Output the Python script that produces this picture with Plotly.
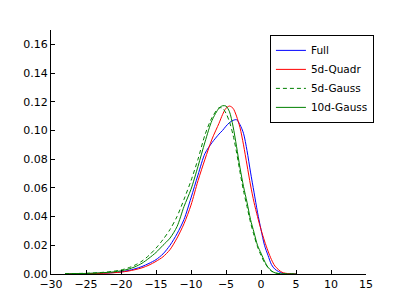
import plotly.graph_objects as go

x_grid = [-28, -27, -26, -25, -24, -23, -22, -21, -20, -19, -18, -17, -16, -15,
          -14, -13, -12, -11, -10, -9, -8, -7,
          -6, -5.5, -5, -4.5, -4, -3.5, -3, -2.5, -2, -1.5, -1, -0.5, 0, 0.5,
          1, 1.5, 2, 3, 4, 5]

full = [0.0001, 0.0001, 0.0002, 0.0003, 0.0004, 0.0005, 0.0007, 0.0010, 0.0015,
        0.0024, 0.0036, 0.0052, 0.0074, 0.010, 0.014, 0.020, 0.028, 0.038, 0.053,
        0.069, 0.084, 0.0915,
        0.0975, 0.100, 0.103, 0.1055, 0.107, 0.1075, 0.104, 0.098, 0.086, 0.071,
        0.057, 0.043, 0.031, 0.020, 0.013, 0.0065, 0.0033, 0.0006, 0.0001, 0.0]

quadr5 = [0.0, 0.0001, 0.0001, 0.0002, 0.0003, 0.0004, 0.0006, 0.0009, 0.0013,
          0.002, 0.003, 0.0043, 0.0062, 0.0088, 0.012, 0.017, 0.025, 0.035, 0.048,
          0.065, 0.080, 0.094,
          0.105, 0.111, 0.1155, 0.117, 0.1155, 0.110, 0.102, 0.090, 0.076, 0.062,
          0.050, 0.040, 0.031, 0.023, 0.016, 0.010, 0.0055, 0.0012, 0.0002, 0.0]

gauss5 = [0.0002, 0.0003, 0.0004, 0.0005, 0.0007, 0.001, 0.0014, 0.002, 0.0028,
          0.0042, 0.0062, 0.009, 0.013, 0.018, 0.024, 0.031, 0.040, 0.052, 0.065,
          0.080, 0.097, 0.109,
          0.1158, 0.1155, 0.112, 0.106, 0.097, 0.085, 0.071, 0.058, 0.047, 0.036,
          0.027, 0.019, 0.013, 0.008, 0.0045, 0.002, 0.0008, 0.0001, 0.0, 0.0]

gauss10 = [0.0001, 0.0002, 0.0003, 0.0004, 0.0006, 0.0008, 0.0011, 0.0015, 0.0022,
           0.0033, 0.005, 0.0075, 0.011, 0.015, 0.020, 0.025, 0.033, 0.047, 0.059,
           0.075, 0.092, 0.107,
           0.1155, 0.1172, 0.117, 0.113, 0.103, 0.089, 0.074, 0.061, 0.050, 0.038,
           0.029, 0.020, 0.0145, 0.009, 0.0047, 0.0022, 0.0008, 0.0001, 0.0, 0.0]

series = [
    ("Full", full, "#0000ff", "solid"),
    ("5d-Quadr", quadr5, "#ff0000", "solid"),
    ("5d-Gauss", gauss5, "#008000", "4px,3px"),
    ("10d-Gauss", gauss10, "#008000", "solid"),
]

x_ticks = [-30, -25, -20, -15, -10, -5, 0, 5, 10, 15]
y_ticks = [0.00, 0.02, 0.04, 0.06, 0.08, 0.10, 0.12, 0.14, 0.16]

fig = go.Figure()
for name, vals, color, dash in series:
    fig.add_trace(go.Scatter(x=x_grid, y=vals, name=name, mode="lines",
                             line=dict(color=color, width=1, dash=dash,
                                       shape="spline", smoothing=0.8)))

# page body has an 8px default margin, so the margins compensate for it
fig.update_layout(
    width=407, height=305,
    margin=dict(l=43, r=49, t=22, b=39),
    paper_bgcolor="white", plot_bgcolor="white",
    font=dict(family="DejaVu Sans", size=11, color="black"),
    showlegend=True,
    legend=dict(x=0.695, y=0.98, xanchor="left", yanchor="top",
                bgcolor="white", bordercolor="black", borderwidth=1,
                font=dict(size=10.5), tracegroupgap=0, itemwidth=30),
)
fig.update_xaxes(range=[-30, 15], tickvals=x_ticks, ticks="inside", ticklen=4,
                 tickcolor="black", showline=True, linecolor="black", linewidth=1,
                 showgrid=False, zeroline=False, mirror=False)
fig.update_yaxes(range=[0, 0.17], tickvals=y_ticks, tickformat=".2f",
                 ticks="inside", ticklen=4, tickcolor="black", showline=True,
                 linecolor="black", linewidth=1, showgrid=False, zeroline=False,
                 mirror=False)

fig.write_html("out.html")
